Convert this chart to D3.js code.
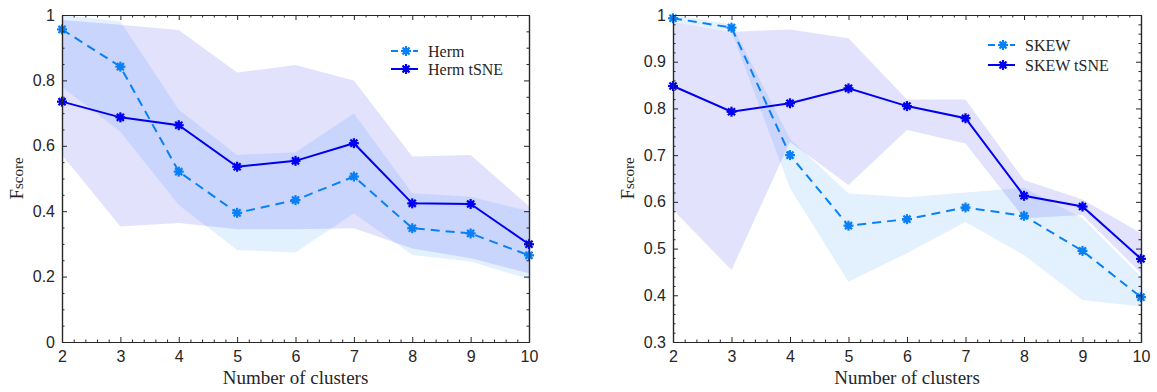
<!DOCTYPE html>
<html>
<head>
<meta charset="utf-8">
<script src="https://cdn.jsdelivr.net/npm/d3@7"></script>
<style>
  body { margin: 0; background: #fff; }
  .tick-label { font-family: "Liberation Sans", Arial, sans-serif; font-size: 16px; fill: #262626; }
  .axis-label { font-family: "Liberation Serif", "Times New Roman", serif; fill: #262626; }
  .legend-text { font-family: "Liberation Serif", "Times New Roman", serif; font-size: 16px; fill: #262626; }
</style>
</head>
<body>
<div id="chart"></div>
<script>
// cluster counts (x axis)
const clusters = [2, 3, 4, 5, 6, 7, 8, 9, 10];

// left panel - Herm
const hermMean = [0.956, 0.842, 0.521, 0.395, 0.434, 0.506, 0.348, 0.332, 0.265];
const hermLow  = [0.78, 0.643, 0.419, 0.281, 0.274, 0.394, 0.266, 0.246, 0.192];
const hermHigh = [1.0, 0.98, 0.71, 0.572, 0.58, 0.699, 0.455, 0.444, 0.40];
// left panel - Herm tSNE
const hermTsneMean = [0.735, 0.687, 0.663, 0.536, 0.554, 0.608, 0.424, 0.422, 0.299];
const hermTsneLow  = [0.572, 0.353, 0.364, 0.345, 0.345, 0.348, 0.286, 0.256, 0.21];
const hermTsneHigh = [0.985, 0.97, 0.954, 0.824, 0.847, 0.80, 0.567, 0.572, 0.415];

// right panel - SKEW
const skewMean = [0.993, 0.973, 0.700, 0.549, 0.563, 0.588, 0.570, 0.495, 0.396];
const skewLow  = [0.985, 0.965, 0.629, 0.429, 0.49, 0.557, 0.486, 0.39, 0.376];
const skewHigh = [1.0, 0.98, 0.735, 0.618, 0.61, 0.62, 0.63, 0.565, 0.44];
// right panel - SKEW tSNE
const skewTsneMean = [0.848, 0.793, 0.811, 0.843, 0.805, 0.779, 0.613, 0.590, 0.478];
const skewTsneLow  = [0.583, 0.454, 0.728, 0.636, 0.754, 0.725, 0.565, 0.572, 0.447];
const skewTsneHigh = [0.985, 0.964, 0.969, 0.95, 0.819, 0.819, 0.647, 0.605, 0.533];

// tick labels
const xTicks = [2, 3, 4, 5, 6, 7, 8, 9, 10];
const yTicksLeft = [0, 0.2, 0.4, 0.6, 0.8, 1];
const yTickLabelsLeft = ["0", "0.2", "0.4", "0.6", "0.8", "1"];
const yTicksRight = [0.3, 0.4, 0.5, 0.6, 0.7, 0.8, 0.9, 1];
const yTickLabelsRight = ["0.3", "0.4", "0.5", "0.6", "0.7", "0.8", "0.9", "1"];

const lightBlue = "#0a80f7";
const darkBlue = "#0000f0";
const axisColor = "#262626";

const svg = d3.select("#chart").append("svg")
    .attr("width", 1157)
    .attr("height", 392);

// asterisk-like marker
function drawMarker(g, x, y, color) {
    const m = g.append("g").attr("transform", `translate(${x},${y})`);
    m.append("circle").attr("r", 3.2).attr("fill", color);
    [0, 45, 90, 135].forEach(a => {
        m.append("line")
            .attr("x1", -5).attr("x2", 5)
            .attr("transform", `rotate(${a})`)
            .attr("stroke", color)
            .attr("stroke-width", 2.2);
    });
}

function drawPanel(cfg) {
    const { left, right, top, bottom } = cfg.box;
    const g = svg.append("g");

    const x = d3.scaleLinear().domain([2, 10]).range([left, right]);
    const y = d3.scaleLinear().domain(cfg.yDomain).range([bottom, top]);

    const area = d3.area()
        .x((d, i) => x(clusters[i]))
        .y0(d => y(d[0]))
        .y1(d => y(d[1]));
    const line = d3.line()
        .x((d, i) => x(clusters[i]))
        .y(d => y(d));

    // bands
    cfg.series.forEach(s => {
        g.append("path")
            .datum(s.low.map((v, i) => [v, s.high[i]]))
            .attr("d", area)
            .attr("fill", s.color)
            .attr("fill-opacity", 0.115);
    });

    // lines + markers
    cfg.series.forEach(s => {
        g.append("path")
            .datum(s.mean)
            .attr("d", line)
            .attr("fill", "none")
            .attr("stroke", s.color)
            .attr("stroke-width", 2)
            .attr("stroke-dasharray", s.dashed ? "9,6" : null);
        s.mean.forEach((v, i) => drawMarker(g, x(clusters[i]), y(v), s.color));
    });

    // minor tick values
    const xMinor = d3.range(2, 10.001, 0.2).filter(v => Math.abs(v - Math.round(v)) > 1e-6);
    const yMinor = d3.range(cfg.yDomain[0], cfg.yDomain[1] + 1e-6, cfg.yMinorStep)
        .filter(v => !cfg.yTicks.some(t => Math.abs(t - v) < 1e-6));

    // axes (ticks point inward)
    const bottomAxis = g.append("g")
        .attr("transform", `translate(0,${bottom})`)
        .call(d3.axisBottom(x).tickValues(xTicks).tickSize(-5).tickSizeOuter(0).tickPadding(9).tickFormat(d => d));
    const topAxis = g.append("g")
        .attr("transform", `translate(0,${top})`)
        .call(d3.axisTop(x).tickValues(xTicks).tickSize(-5).tickSizeOuter(0).tickFormat(""));
    const leftAxis = g.append("g")
        .attr("transform", `translate(${left},0)`)
        .call(d3.axisLeft(y).tickValues(cfg.yTicks).tickSize(-5).tickSizeOuter(0).tickPadding(7)
            .tickFormat((d, i) => cfg.yTickLabels[i]));
    const rightAxis = g.append("g")
        .attr("transform", `translate(${right},0)`)
        .call(d3.axisRight(y).tickValues(cfg.yTicks).tickSize(-5).tickSizeOuter(0).tickFormat(""));

    g.append("g").attr("transform", `translate(0,${bottom})`)
        .call(d3.axisBottom(x).tickValues(xMinor).tickSize(-2.5).tickSizeOuter(0).tickFormat(""));
    g.append("g").attr("transform", `translate(0,${top})`)
        .call(d3.axisTop(x).tickValues(xMinor).tickSize(-2.5).tickSizeOuter(0).tickFormat(""));
    g.append("g").attr("transform", `translate(${left},0)`)
        .call(d3.axisLeft(y).tickValues(yMinor).tickSize(-2.5).tickSizeOuter(0).tickFormat(""));
    g.append("g").attr("transform", `translate(${right},0)`)
        .call(d3.axisRight(y).tickValues(yMinor).tickSize(-2.5).tickSizeOuter(0).tickFormat(""));

    g.selectAll(".domain").attr("stroke", axisColor).attr("stroke-width", 1.2);
    g.selectAll(".tick line").attr("stroke", axisColor).attr("stroke-width", 1);
    g.selectAll(".tick text").attr("class", "tick-label").attr("fill", null);
    [bottomAxis, topAxis, leftAxis, rightAxis].forEach(a => a.attr("font-family", null).attr("font-size", null));

    // x label
    g.append("text")
        .attr("class", "axis-label")
        .attr("x", (left + right) / 2)
        .attr("y", 384)
        .attr("text-anchor", "middle")
        .style("font-size", "19px")
        .text("Number of clusters");

    // y label
    const yl = g.append("text")
        .attr("class", "axis-label")
        .attr("transform", `translate(${cfg.yLabelX},${(top + bottom) / 2}) rotate(-90)`)
        .attr("text-anchor", "middle");
    yl.append("tspan").style("font-size", "19px").text("F");
    yl.append("tspan").style("font-size", "15px").text("score");

    // legend
    cfg.series.forEach((s, i) => {
        const ly = cfg.legend.y[i];
        g.append("line")
            .attr("x1", cfg.legend.x).attr("x2", cfg.legend.x + 27)
            .attr("y1", ly).attr("y2", ly)
            .attr("stroke", s.color)
            .attr("stroke-width", 2)
            .attr("stroke-dasharray", s.dashed ? "7,4" : null);
        drawMarker(g, cfg.legend.x + 15, ly, s.color);
        g.append("text")
            .attr("class", "legend-text")
            .attr("x", cfg.legend.x + 37)
            .attr("y", ly)
            .attr("dy", "0.35em")
            .text(s.name);
    });
}

drawPanel({
    box: { left: 62, right: 529, top: 15, bottom: 342 },
    yDomain: [0, 1],
    yTicks: yTicksLeft,
    yTickLabels: yTickLabelsLeft,
    yMinorStep: 0.05,
    yLabelX: 23,
    legend: { x: 391, y: [51, 69] },
    series: [
        { name: "Herm", mean: hermMean, low: hermLow, high: hermHigh, color: lightBlue, dashed: true },
        { name: "Herm tSNE", mean: hermTsneMean, low: hermTsneLow, high: hermTsneHigh, color: darkBlue, dashed: false }
    ]
});

drawPanel({
    box: { left: 673, right: 1141, top: 15, bottom: 342 },
    yDomain: [0.3, 1],
    yTicks: yTicksRight,
    yTickLabels: yTickLabelsRight,
    yMinorStep: 0.02,
    yLabelX: 634,
    legend: { x: 988, y: [45, 65] },
    series: [
        { name: "SKEW", mean: skewMean, low: skewLow, high: skewHigh, color: lightBlue, dashed: true },
        { name: "SKEW tSNE", mean: skewTsneMean, low: skewTsneLow, high: skewTsneHigh, color: darkBlue, dashed: false }
    ]
});
</script>
</body>
</html>
